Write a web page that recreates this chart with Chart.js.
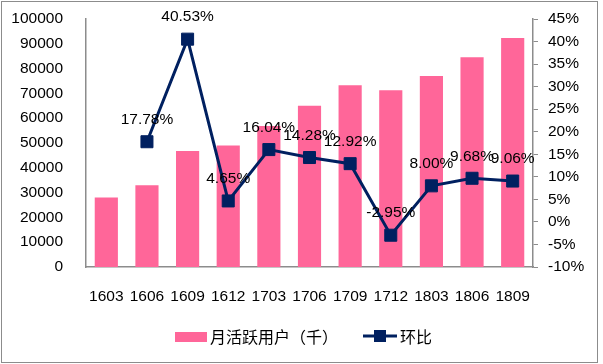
<!DOCTYPE html>
<html>
<head>
<meta charset="utf-8">
<script src="https://cdn.jsdelivr.net/npm/chart.js@4/dist/chart.umd.min.js"></script>
<style>
  html, body { margin: 0; padding: 0; background: #fff; }
  #wrap { width: 603px; height: 364px; position: relative; }
</style>
</head>
<body>
<div id="wrap"><canvas id="chart" width="603" height="364"></canvas></div>
<script>
    // data
    const periods = ['1603', '1606', '1609', '1612', '1703', '1706', '1709', '1712', '1803', '1806', '1809'];
    const mau = [28000, 33000, 46800, 49000, 56900, 65000, 73300, 71300, 77000, 84600, 92300];
    const qoq = [null, 17.78, 40.53, 4.65, 16.04, 14.28, 12.92, -2.95, 8.00, 9.68, 9.06];
    const mauLabel = '月活跃用户（千）';
    const qoqLabel = '环比';

    const pink = '#FF6699';
    const navy = '#002060';
    const axisGrey = '#8c8c8c';
    const numFont = { family: 'Liberation Sans', size: 15.5 };

    // percentage labels above the line points
    const pointLabels = {
        id: 'pointLabels',
        afterDatasetsDraw(chart) {
            const ctx = chart.ctx;
            const meta = chart.getDatasetMeta(1);
            ctx.save();
            ctx.font = '15.5px "Liberation Sans"';
            ctx.fillStyle = '#000';
            ctx.textAlign = 'center';
            ctx.textBaseline = 'middle';
            meta.data.forEach((pt, i) => {
                if (qoq[i] === null) return;
                ctx.fillText(qoq[i].toFixed(2) + '%', pt.x, pt.y - 22);
            });
            ctx.restore();
        }
    };

    // bottom legend (box for bars, line + square for the ratio) and outer frame
    const legendAndFrame = {
        id: 'legendAndFrame',
        afterDraw(chart) {
            const ctx = chart.ctx;
            ctx.save();
            ctx.strokeStyle = axisGrey;
            ctx.lineWidth = 1;
            ctx.strokeRect(1.5, 1.5, 596, 361);

            ctx.fillStyle = pink;
            ctx.fillRect(175, 332, 32, 10);
            ctx.font = '16px "Noto Sans CJK SC"';
            ctx.fillStyle = '#000';
            ctx.textBaseline = 'middle';
            ctx.textAlign = 'left';
            ctx.fillText(mauLabel, 210, 337);

            ctx.strokeStyle = navy;
            ctx.lineWidth = 3;
            ctx.beginPath();
            ctx.moveTo(363, 336);
            ctx.lineTo(397, 336);
            ctx.stroke();
            ctx.fillStyle = navy;
            ctx.fillRect(374, 330, 12, 12);
            ctx.fillStyle = '#000';
            ctx.fillText(qoqLabel, 400, 337);
            ctx.restore();
        }
    };

    // fixed axis sizes so the plot area sits where the reference has it
    const fitY = w => s => { s.width = w; s.paddingTop = 0; s.paddingBottom = 0; };

    new Chart(document.getElementById('chart'), {
        type: 'bar',
        data: {
            labels: periods,
            datasets: [
                { type: 'bar', label: mauLabel, data: mau, backgroundColor: pink, yAxisID: 'y', order: 2,
                  barPercentage: 0.57, categoryPercentage: 1 },
                { type: 'line', label: qoqLabel, data: qoq, yAxisID: 'y1', order: 1,
                  borderColor: navy, backgroundColor: navy, borderWidth: 3, tension: 0,
                  pointStyle: 'rect', pointRadius: 8.5, pointBorderWidth: 1, pointBackgroundColor: navy, pointBorderColor: navy }
            ]
        },
        options: {
            responsive: false,
            animation: false,
            layout: { padding: { top: 19, left: 0, right: 0, bottom: 0 } },
            plugins: { legend: { display: false }, tooltip: { enabled: false } },
            scales: {
                x: {
                    grid: { display: false },
                    border: { display: true, color: axisGrey, width: 1.5 },
                    ticks: { font: numFont, color: '#000', padding: 12, maxRotation: 0 },
                    afterFit: s => { s.height = 97; }
                },
                y: {
                    position: 'left',
                    min: 0, max: 100000,
                    grid: { display: false },
                    border: { display: true, color: axisGrey, width: 1.5 },
                    ticks: { stepSize: 10000, font: numFont, color: '#000', padding: 15, callback: v => String(v) },
                    afterFit: fitY(86)
                },
                y1: {
                    position: 'right',
                    min: -10, max: 45,
                    grid: { display: true, drawOnChartArea: false, drawTicks: true, tickLength: 5, color: axisGrey },
                    border: { display: true, color: axisGrey, width: 1.5 },
                    ticks: { stepSize: 5, font: numFont, color: '#000', padding: 10, callback: v => v + '%' },
                    afterFit: fitY(70)
                }
            }
        },
        plugins: [pointLabels, legendAndFrame]
    });
</script>
</body>
</html>
